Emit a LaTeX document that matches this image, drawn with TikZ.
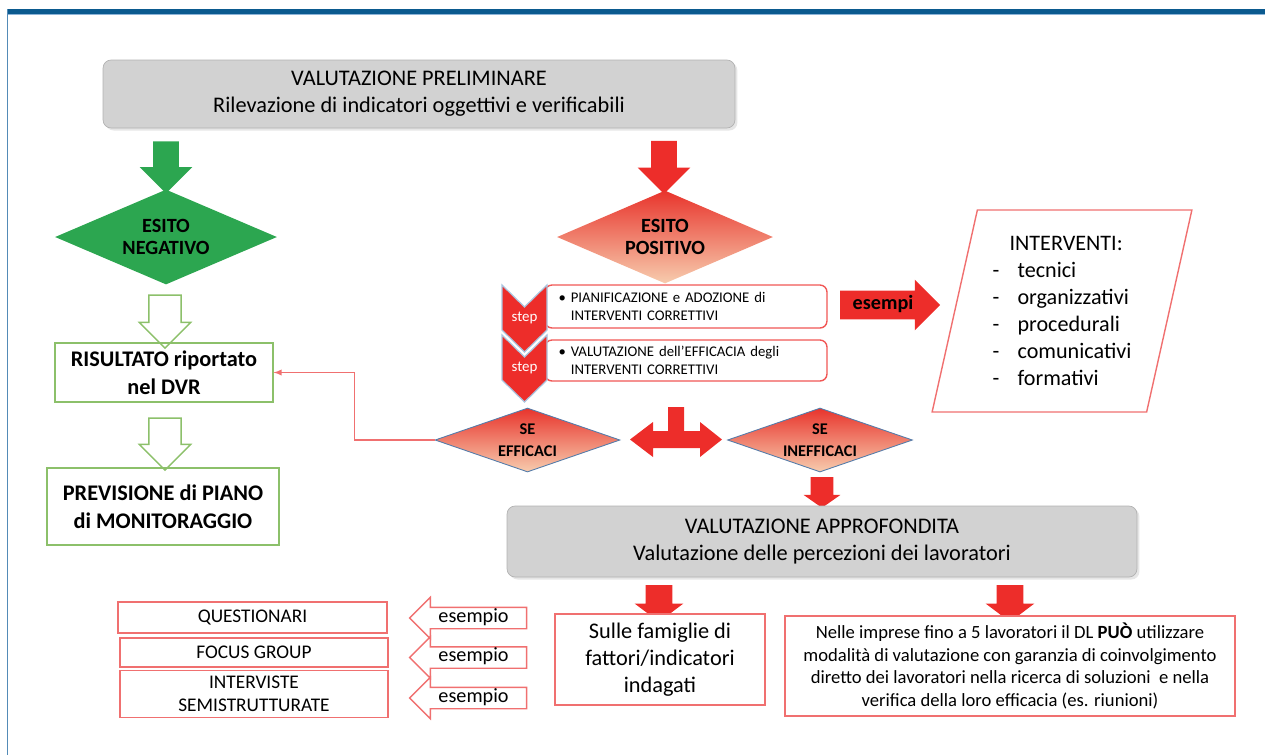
\documentclass[tikz,border=0pt]{standalone}
\usepackage{fontspec}
\setmainfont{Carlito}
\usepackage{tikz}
\usetikzlibrary{shapes.geometric,shapes.arrows,shadows}

\definecolor{framedark}{RGB}{11,90,143}
\definecolor{framelight}{RGB}{141,180,216}
\definecolor{boxgrey}{RGB}{210,210,210}
\definecolor{okgreen}{RGB}{44,166,80}
\definecolor{softgreen}{RGB}{140,192,106}
\definecolor{alertred}{RGB}{237,45,42}
\definecolor{softred}{RGB}{240,112,112}
\definecolor{diatop}{RGB}{232,52,44}
\definecolor{diabot}{RGB}{247,204,174}
\definecolor{diaedge}{RGB}{84,124,170}
\definecolor{chevedge}{RGB}{170,196,222}

\newcommand\fsTitle{\fontsize{12.7}{15.4}\selectfont}
\newcommand\fsDia{\bfseries\fontsize{11.5}{12.8}\selectfont}
\newcommand\fsSe{\bfseries\fontsize{9.3}{12.5}\selectfont}
\newcommand\fsStep{\fontsize{8.4}{10.3}\selectfont}
\newcommand\fsChev{\fontsize{8.5}{10}\selectfont}
\newcommand\fsBig{\bfseries\fontsize{12.7}{15.8}\selectfont}
\newcommand\fsList{\fontsize{12.6}{15.4}\selectfont}
\newcommand\fsItem{\fontsize{11}{13}\selectfont}
\newcommand\fsEx{\fontsize{11.5}{13}\selectfont}
\newcommand\fsNote{\fontsize{10.6}{12.8}\selectfont}

\begin{document}
\begin{tikzpicture}[x=0.02cm, y=-0.02cm,
        greybox/.style={rectangle, rounded corners=0.16cm, fill=boxgrey, draw=boxgrey!85!black, line width=0.4pt,
            drop shadow={opacity=0.2, shadow xshift=0.05cm, shadow yshift=-0.05cm}, align=center, font=\fsTitle},
        blockdown/.style={single arrow, shape border rotate=270, draw=none},
        greendia/.style={diamond, fill=okgreen, inner sep=0pt, align=center, font=\fsDia},
        reddia/.style={diamond, top color=diatop, bottom color=diabot, inner sep=0pt, align=center},
        hollow/.style={single arrow, shape border rotate=270, draw=softgreen, fill=white, line width=0.8pt},
        greenbox/.style={rectangle, draw=softgreen, line width=0.7pt, align=center, font=\fsBig},
        stepbox/.style={rectangle, rounded corners=0.14cm, draw=alertred!80, line width=0.8pt, fill=white,
            minimum width=5.64cm, text width=5.1cm, inner xsep=0.24cm, align=left, font=\fsStep},
        chevshape/.style={fill=alertred, draw=chevedge, line width=0.7pt},
        chevlabel/.style={inner sep=0pt, text=white, font=\fsChev},
        redbox/.style={rectangle, draw=softred, line width=0.9pt, fill=white, align=center},
        exarrow/.style={single arrow, shape border rotate=180, draw=softred, fill=white, line width=0.8pt,
            inner xsep=0pt, inner ysep=0pt, text height=0.28cm, text depth=0.12cm,
            minimum height=2.34cm, minimum width=0.8cm, single arrow head extend=0.2cm, font=\fsEx},
        link/.style={draw=softred, line width=0.6pt}
    ]
        \useasboundingbox (0,0) rectangle (1265,755);

        % Frame
        \fill[framedark] (8,9) rectangle (1265,13.5);
        \fill[framelight] (8,13.5) rectangle (1265,15);
        \draw[framelight!55!framedark, line width=1.1pt] (7.5,9) -- (7.5,755);

        % Preliminary assessment
        \node[greybox, minimum width=12.64cm, minimum height=1.36cm] (prelim) at (419,94)
            {VALUTAZIONE PRELIMINARE\\Rilevazione di indicatori oggettivi e verificabili};

        % Negative branch
        \node[blockdown, fill=okgreen, inner sep=0.25cm, minimum height=1.04cm, minimum width=1.04cm,
            single arrow head extend=0.27cm] (garrow) at (166,161) {};
        \node[greendia, shape aspect=2.34, minimum width=4.44cm, minimum height=1.9cm] (neg) at (166,237) {ESITO\\NEGATIVO};
        \node[hollow, inner sep=0.31cm, minimum height=1.06cm, minimum width=1.0cm, single arrow head extend=0.19cm] (hol1) at (165,313.5) {};
        \node[greenbox, minimum width=4.36cm, minimum height=1.18cm] (risultato) at (164,372.5) {RISULTATO riportato\\nel DVR};
        \node[hollow, inner sep=0.31cm, minimum height=1.04cm, minimum width=1.0cm, single arrow head extend=0.19cm] (hol2) at (165,436) {};
        \node[greenbox, minimum width=4.64cm, minimum height=1.54cm] (previsione) at (163,506.5) {PREVISIONE di PIANO\\di MONITORAGGIO};

        % Positive branch
        \node[blockdown, fill=alertred, inner sep=0.25cm, minimum height=1.06cm, minimum width=1.04cm,
            single arrow head extend=0.27cm] (rarrow) at (664,161) {};
        \node[reddia, shape aspect=2.32, minimum width=4.32cm, minimum height=1.86cm, font=\fsDia] (pos) at (665,237) {ESITO\\POSITIVO};

        \node[stepbox, minimum height=0.86cm] (plan) at (686,306.5)
            {\textbullet\ PIANIFICAZIONE e ADOZIONE di\\\hphantom{\textbullet\ }INTERVENTI CORRETTIVI};
        \node[stepbox, minimum height=0.82cm] (check) at (686,360.5)
            {\textbullet\ VALUTAZIONE dell’EFFICACIA degli\\\hphantom{\textbullet\ }INTERVENTI CORRETTIVI};
        \path[chevshape] (502,285) -- (524.5,307) -- (547,285) -- (547,330) -- (524.5,352) -- (502,330) -- cycle;
        \path[chevshape] (502,335) -- (524.5,357) -- (547,335) -- (547,380) -- (524.5,402) -- (502,380) -- cycle;
        \node[chevlabel] (chev1) at (524.5,318) {step};
        \node[chevlabel] (chev2) at (524.5,368) {step};

        \node[single arrow, fill=alertred, inner xsep=0pt, inner ysep=0pt, text height=0.37cm, text depth=0.19cm,
            minimum height=2cm, minimum width=1cm, single arrow head extend=0.22cm, font=\fsDia] (esempi) at (883,305) {esempi};
        \node[trapezium, trapezium left angle=76, trapezium right angle=104, trapezium stretches=true,
            minimum width=5.2cm, minimum height=4.04cm, draw=softred, line width=0.8pt, align=left, font=\fsList] (interv) at (1062,311)
            {\hspace*{0.34cm}INTERVENTI:\\
             \makebox[0.5cm][l]{-}tecnici\\
             \makebox[0.5cm][l]{-}organizzativi\\
             \makebox[0.5cm][l]{-}procedurali\\
             \makebox[0.5cm][l]{-}comunicativi\hspace*{0.44cm}\\
             \makebox[0.5cm][l]{-}formativi};

        % Outcome of corrective actions
        \node[reddia, draw=diaedge, line width=0.5pt, shape aspect=2.89, minimum width=3.7cm, minimum height=1.28cm,
            font=\fsSe] (efficaci) at (527.5,440) {SE\\EFFICACI};
        \node[reddia, draw=diaedge, line width=0.5pt, shape aspect=2.89, minimum width=3.7cm, minimum height=1.28cm,
            font=\fsSe] (inefficaci) at (820,440) {SE\\INEFFICACI};
        \fill[alertred] (630,439.5) -- (653,422) -- (653,431) -- (668,431) -- (668,407) -- (684,407) -- (684,431)
            -- (700,431) -- (700,422) -- (722,439.5) -- (700,457) -- (700,448) -- (653,448) -- (653,457) -- cycle;
        \draw[link, -latex] (efficaci.west) -- ++(-80,0) |- (risultato.east);

        % In-depth assessment
        \node[blockdown, fill=alertred, inner sep=0.22cm, minimum height=0.6cm, minimum width=0.72cm,
            single arrow head extend=0.14cm, single arrow tip angle=110] (inarrow) at (822,488.5) {};
        \node[greybox, minimum width=12.6cm, minimum height=1.42cm] (approf) at (822,541.5)
            {VALUTAZIONE APPROFONDITA\\Valutazione delle percezioni dei lavoratori};
        \node[blockdown, fill=alertred, inner sep=0.26cm, minimum height=0.66cm, minimum width=0.96cm,
            single arrow head extend=0.22cm, single arrow tip angle=106] (arrfam) at (659,598.5) {};
        \node[blockdown, fill=alertred, inner sep=0.26cm, minimum height=0.66cm, minimum width=0.96cm,
            single arrow head extend=0.22cm, single arrow tip angle=106] (arrdl) at (1010,598.5) {};

        \node[redbox, minimum width=4.2cm, minimum height=1.82cm, font=\fsTitle] (famiglie) at (660,659.5)
            {Sulle famiglie di\\fattori/indicatori\\indagati};
        \node[redbox, minimum width=9cm, minimum height=2cm, font=\fsNote] (piccole) at (1010,666)
            {Nelle imprese fino a 5 lavoratori il DL \textbf{PUÒ} utilizzare\\
             modalità di valutazione con garanzia di coinvolgimento\\
             diretto dei lavoratori nella ricerca di soluzioni\ \ e nella\\
             verifica della loro efficacia (es. riunioni)};

        % Examples
        \node[exarrow] (ex1) at (473.5,618) {esempio};
        \node[exarrow] (ex2) at (473.5,657.5) {esempio};
        \node[exarrow] (ex3) at (473.5,698) {esempio};
        \node[redbox, minimum width=5.38cm, minimum height=0.62cm, font=\fsItem] (quest) at (252.5,617.5) {QUESTIONARI};
        \node[redbox, minimum width=5.36cm, minimum height=0.58cm, font=\fsItem] (focus) at (254,652.5) {FOCUS GROUP};
        \node[redbox, minimum width=5.36cm, minimum height=0.88cm, font=\fsItem] (semi) at (254,694) {INTERVISTE\\SEMISTRUTTURATE};
\end{tikzpicture}
\end{document}
